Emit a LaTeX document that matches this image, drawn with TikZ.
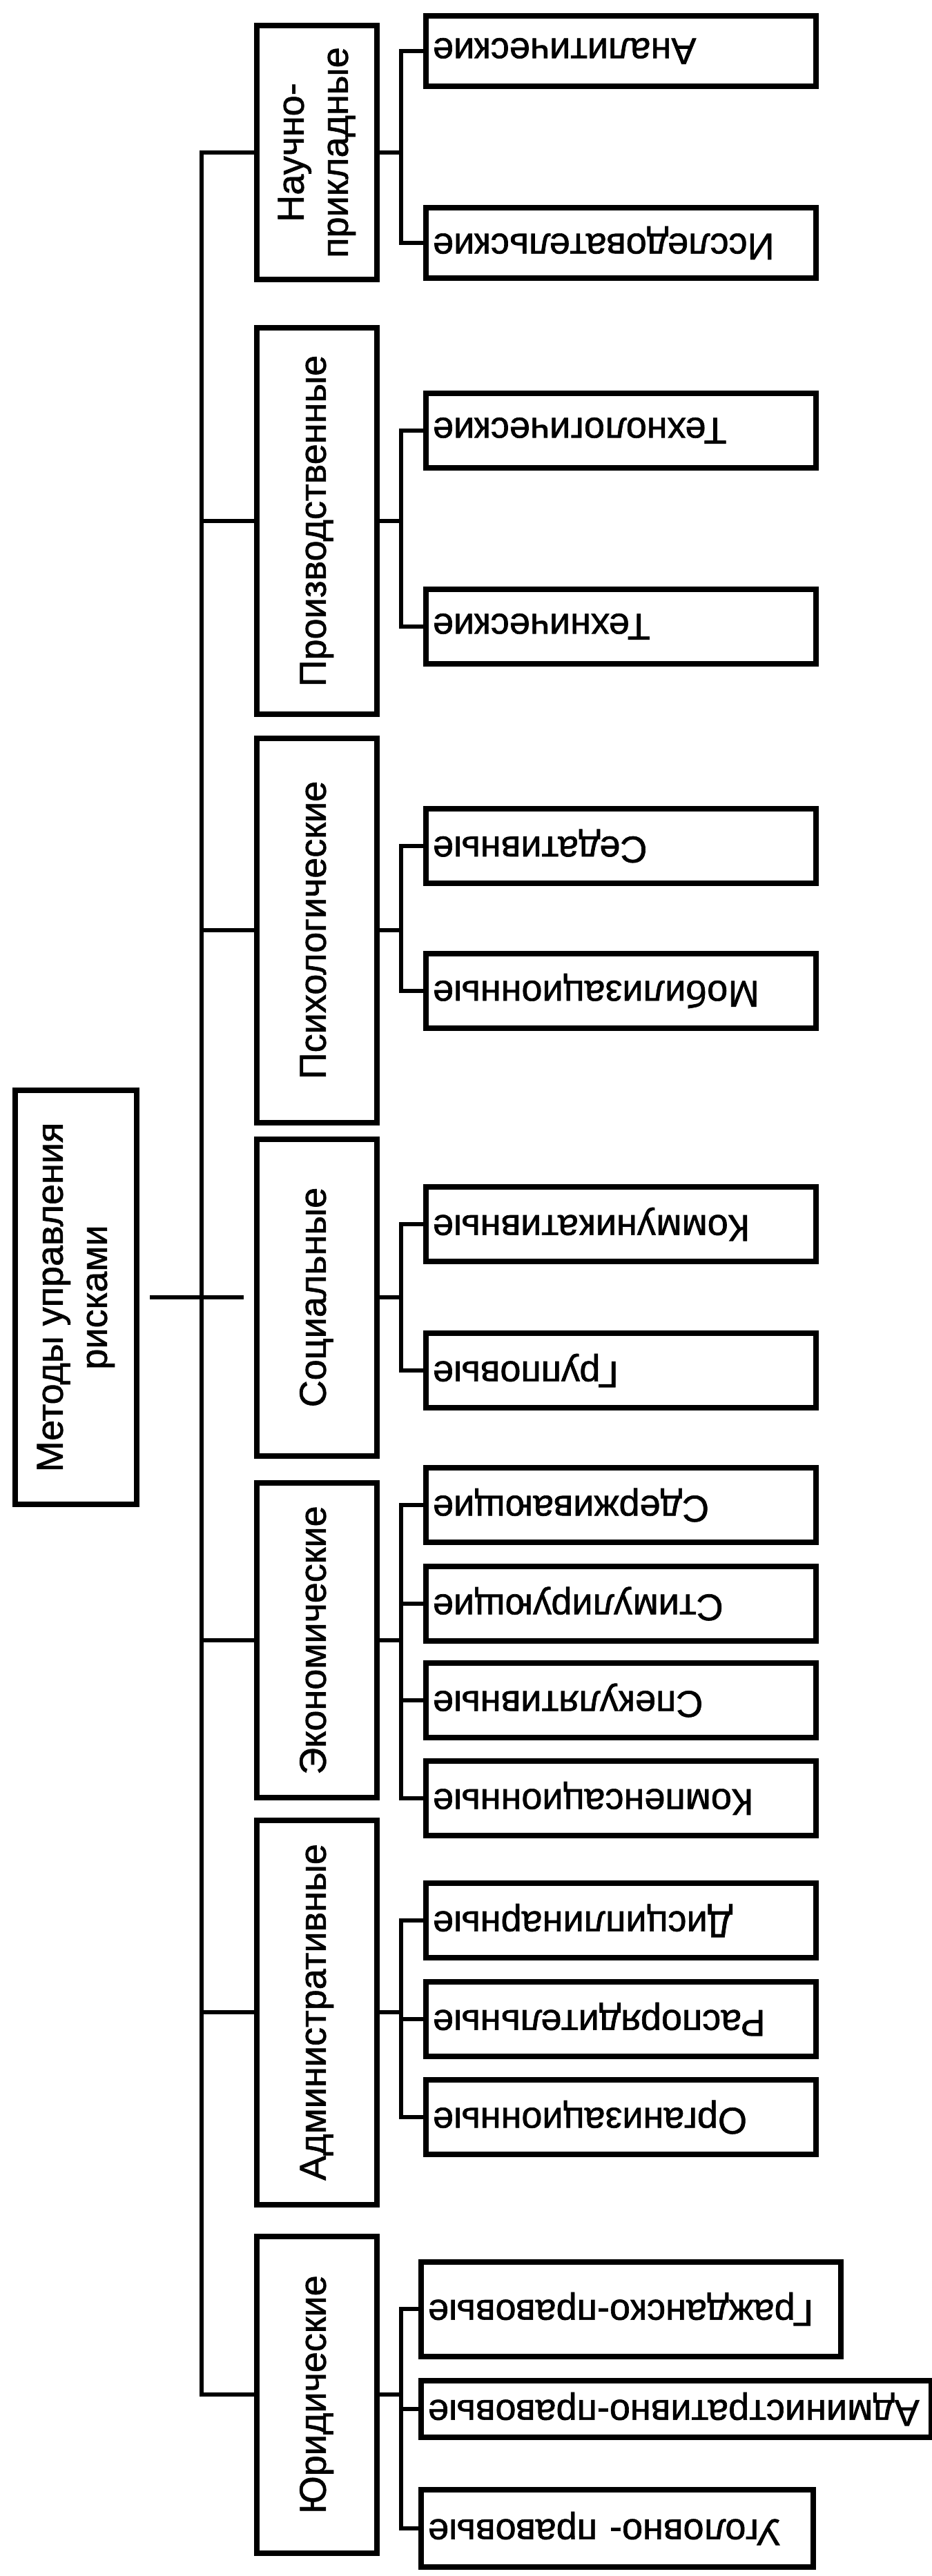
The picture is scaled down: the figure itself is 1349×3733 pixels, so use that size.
\documentclass[tikz,border=0pt]{standalone}
\usepackage{fontspec}
\setmainfont{Liberation Sans}[FakeBold=1.2]
\usepackage{graphicx}
\usepackage{tikz}
\usetikzlibrary{positioning,calc}
\newcommand{\upside}[1]{\rotatebox[origin=c]{180}{#1}}
\newcommand{\sidetext}[1]{\rotatebox{90}{\begin{tabular}{@{}c@{}}#1\end{tabular}}}
\tikzstyle{box} = [rectangle,draw,line width=1.6pt,inner sep=0pt,font=\fontsize{10.8}{12.8}\selectfont]
\tikzstyle{rootbox} = [box,minimum width=35.2pt,minimum height=120pt]
\tikzstyle{kind} = [box,minimum width=34.8pt]
\tikzstyle{leaf} = [box,anchor=west,minimum height=21.6pt,inner xsep=2pt,text width=109pt,align=left]
\tikzstyle{line} = [line width=1.3pt]
\tikzstyle{fork} = [line,to path={-- ++(31,0) |- (\tikztotarget)}]

\begin{document}
\begin{tikzpicture}[x=0.2pt,y=-0.2pt]
        \useasboundingbox (0,0) rectangle (1349,3733);
        \coordinate (trunk) at (292,0);
        \node[rootbox] (root) at (110,1880) {\sidetext{Методы управления\\рисками}};

        \node[kind,minimum height=73.6pt] (nauch) at (459,221) {\sidetext{Научно-\\прикладные}};
        \node[kind,minimum height=112pt] (proizv) at (459,755) {\sidetext{Производственные}};
        \node[kind,minimum height=111.4pt] (psih) at (459,1348) {\sidetext{Психологические}};
        \node[kind,minimum height=91.8pt] (soc) at (459,1880) {\sidetext{Социальные}};
        \node[kind,minimum height=91.2pt] (econ) at (459,2377) {\sidetext{Экономические}};
        \node[kind,minimum height=111.4pt] (adm) at (459,2916) {\sidetext{Административные}};
        \node[kind,minimum height=91.8pt] (jur) at (459,3470) {\sidetext{Юридические}};

        \node[leaf,minimum height=20.4pt] (anal) at (613,74) {\upside{Аналитические}};
        \node[leaf,minimum height=20.4pt] (issl) at (613,352) {\upside{Исследовательские}};
        \node[leaf] (tehnol) at (613,624) {\upside{Технологические}};
        \node[leaf] (tehn) at (613,908) {\upside{Технические}};
        \node[leaf] (sedat) at (613,1226) {\upside{Седативные}};
        \node[leaf] (mobil) at (613,1436) {\upside{Мобилизационные}};
        \node[leaf] (kommun) at (613,1774) {\upside{Коммуникативные}};
        \node[leaf] (grupp) at (613,1986) {\upside{Групповые}};
        \node[leaf] (sderzh) at (613,2181) {\upside{Сдерживающие}};
        \node[leaf] (stimul) at (613,2324) {\upside{Стимулирующие}};
        \node[leaf] (spekul) at (613,2464) {\upside{Спекулятивные}};
        \node[leaf] (kompens) at (613,2606) {\upside{Компенсационные}};
        \node[leaf] (discipl) at (613,2783) {\upside{Дисциплинарные}};
        \node[leaf] (rasp) at (613,2926) {\upside{Распорядительные}};
        \node[leaf] (org) at (613,3068) {\upside{Организационные}};
        \node[leaf,minimum height=27.4pt,text width=117.6pt] (grazhd) at (606,3346) {\upside{Гражданско-правовые}};
        \node[leaf,minimum height=16.4pt,text width=143.8pt] (admprav) at (606,3491) {\upside{Административно-правовые}};
        \node[leaf,minimum height=22.4pt,text width=109.6pt] (ugol) at (606,3664) {\upside{Уголовно- правовые}};

        \draw[line,shorten <=3pt,shorten >=3pt] (root.east) -- (soc.west);
        \draw[line] (nauch.west) -- (nauch.west -| trunk) |- (jur.west);
        \draw[line] (proizv.west) -- (proizv.west -| trunk);
        \draw[line] (psih.west) -- (psih.west -| trunk);
        \draw[line] (econ.west) -- (econ.west -| trunk);
        \draw[line] (adm.west) -- (adm.west -| trunk);

        \path[line] (nauch.east) edge[fork] (anal.west) edge[fork] (issl.west);
        \path[line] (proizv.east) edge[fork] (tehnol.west) edge[fork] (tehn.west);
        \path[line] (psih.east) edge[fork] (sedat.west) edge[fork] (mobil.west);
        \path[line] (soc.east) edge[fork] (kommun.west) edge[fork] (grupp.west);
        \path[line] (econ.east) edge[fork] (sderzh.west) edge[fork] (stimul.west)
        edge[fork] (spekul.west) edge[fork] (kompens.west);
        \path[line] (adm.east) edge[fork] (discipl.west) edge[fork] (rasp.west) edge[fork] (org.west);
        \path[line] (jur.east) edge[fork] (grazhd.west) edge[fork] (admprav.west) edge[fork] (ugol.west);
    \end{tikzpicture}
\end{document}
